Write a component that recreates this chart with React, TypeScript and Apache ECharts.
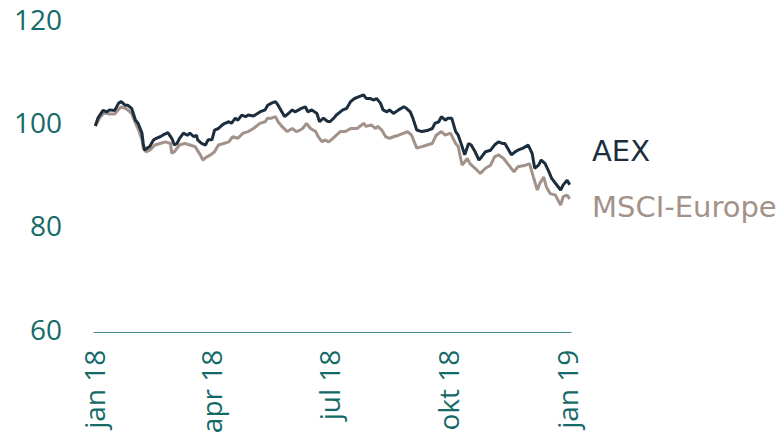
import React, { useEffect, useRef } from "react";
import * as echarts from "echarts";

// Days since 1 Jan 2018, index values (start = 100)
const aexDays = [1,3,7,10,12,16,19,21,24,26,29,32,34,37,38,39,41,43,46,48,51,53,57,60,62,64,66,69,72,74,77,79,80,83,86,88,91,93,96,99,101,104,106,109,111,114,117,119,123,
128,132,134,137,140,142,145,147,150,153,155,158,160,163,165,168,172,174,177,180,182,185,187,190,192,195,198,201,205,208,210,213,216,218,221,223,226,228,231,235,239,241,244,246,
249,253,257,261,263,266,268,271,273,276,279,281,284,286,289,291,294,297,299,302,306,309,312,315,317,320,322,325,327,331,335,338,340,343,345,348,351,353,356,360,362,365,367];
const aexValues = [100,101.5,103,102.7,103.1,103,104.4,104.7,104,104,103.4,101.1,100.5,98.6,96.6,95.3,95.7,96,97.3,97.6,97.9,98.2,98.7,97.6,96.3,96.6,97.6,98.6,98.2,98.6,97.9,98.2,97.3,96.6,96.3,97.3,97.3,99.2,99.5,100.2,100.5,100.8,100.5,101.5,101.1,102.1,101.8,102.1,101.9,
102.7,103.1,104,104.4,104.7,104,102.7,101.8,102.4,103.1,102.7,103.1,103.4,103.7,102.7,103.1,102.4,100.8,101.5,100.9,100.8,101.5,102.1,102.7,103.1,103.4,104.7,105.3,105.7,106,105.3,105.3,105,105.3,104.4,103.1,102.7,103.1,102.4,103.1,103.7,103.4,102.7,101.5,
99.2,98.9,99.1,99.5,100.5,100.8,101.8,101.1,101.5,101.5,98.9,98.2,96,94.4,96.6,96.3,95,93.4,94,95,95.3,96.3,96.9,96.6,96.6,95.3,94.4,95,95.3,95.7,96.3,94.7,91.8,92.4,93.4,92.7,91.1,89.9,88.9,87.6,88.6,89.5,88.6];

const msciDays = [1,5,8,12,16,19,21,24,26,29,32,34,37,38,40,43,47,51,55,59,60,62,66,70,74,78,82,84,87,90,93,96,100,104,107,111,115,119,123,
128,132,134,137,140,142,145,149,153,156,159,161,164,167,171,173,176,178,181,183,187,190,194,198,203,208,210,214,217,219,222,225,228,231,235,239,242,245,
249,253,257,261,264,268,271,275,279,281,284,288,290,294,298,302,306,309,312,316,320,324,327,333,336,339,342,344,347,349,352,356,360,362,365,367];
const msciValues = [100,101.8,102.5,102.3,102.3,103.2,103.7,103.4,103.1,102.4,100.5,99.5,97.3,95.7,95,95.3,96.3,96.6,96.9,96.6,94.7,95,96.3,96.6,96.3,96,94.4,93.4,94,94.4,95,96.3,96.6,96.9,97.9,97.6,98.6,98.9,99.5,
100.5,100.8,101.5,101.5,101.8,100.8,99.9,98.9,99.5,98.9,99.2,99.5,100.5,99.5,98.9,97.9,96.9,97.3,96.9,97.3,98.2,98.9,98.9,99.5,99.5,100.5,99.9,100.2,99.5,99.9,99.2,97.9,97.6,97.9,98.2,98.6,98.9,98.2,
95.7,96,96.3,96.6,98.2,98.9,98.2,98.6,96.6,96,92.4,93.7,92.7,91.8,90.8,91.8,92.4,94,94.4,93.7,92.4,91.1,92.1,92.4,92.7,90.1,87.6,88.9,90.1,88.2,86.9,86.6,84.7,86.3,86.6,85.9];

const tickDays = [0, 90, 181, 273, 365];
const tickLabels = ["jan 18", "apr 18", "jul 18", "okt 18", "jan 19"];
const seriesNames = ["AEX", "MSCI-Europe"];

const TEAL = "#146a67";
const AEX_COLOR = "#1c2e3e";
const MSCI_COLOR = "#a39289";
const FONT = "Open Sans";
const LEGEND_FONT = "DejaVu Sans";

export default function App() {
  const ref = useRef<HTMLDivElement>(null);
  useEffect(() => {
    if (!ref.current) return;
    const chart = echarts.init(ref.current, undefined, { renderer: "svg" });
    chart.setOption({
      animation: false,
      grid: {
        left: 94,
        right: 213,
        top: 22.5,
        bottom: 105.3,
        containLabel: false,
        outerBoundsMode: "none",
      },
      xAxis: {
        type: "value",
        min: 0,
        max: 368,
        axisLine: { show: true, lineStyle: { color: "#3f8a86", width: 1 } },
        axisTick: { show: false },
        splitLine: { show: false },
        axisLabel: {
          customValues: tickDays,
          rotate: 90,
          margin: 17,
          color: TEAL,
          fontFamily: FONT,
          fontSize: 28,
          formatter: (v: number) => {
            const i = tickDays.indexOf(v);
            return i >= 0 ? tickLabels[i] : "";
          },
        },
      },
      yAxis: {
        type: "value",
        min: 60,
        max: 120,
        interval: 20,
        axisLine: { show: false },
        axisTick: { show: false },
        splitLine: { show: false },
        axisLabel: {
          margin: 32,
          color: TEAL,
          fontFamily: FONT,
          fontSize: 28,
          verticalAlign: "bottom",
          lineHeight: 8,
        },
      },
      graphic: [
        {
          type: "text",
          x: 592,
          y: 151,
          style: {
            text: seriesNames[0],
            fill: AEX_COLOR,
            font: `29px '${LEGEND_FONT}'`,
            verticalAlign: "middle",
          },
        },
        {
          type: "text",
          x: 592,
          y: 207,
          style: {
            text: seriesNames[1],
            fill: MSCI_COLOR,
            font: `29px '${LEGEND_FONT}'`,
            verticalAlign: "middle",
          },
        },
      ],
      series: [
        {
          name: seriesNames[1],
          type: "line",
          showSymbol: false,
          data: msciDays.map((d, i) => [d, msciValues[i]]),
          lineStyle: { color: MSCI_COLOR, width: 3 },
          z: 2,
        },
        {
          name: seriesNames[0],
          type: "line",
          showSymbol: false,
          data: aexDays.map((d, i) => [d, aexValues[i]]),
          lineStyle: { color: AEX_COLOR, width: 3 },
          z: 3,
        },
      ],
    });
    return () => chart.dispose();
  }, []);
  return (
    <div
      ref={ref}
      style={{ position: "absolute", left: 0, top: 0, width: 784, height: 438 }}
    />
  );
}
